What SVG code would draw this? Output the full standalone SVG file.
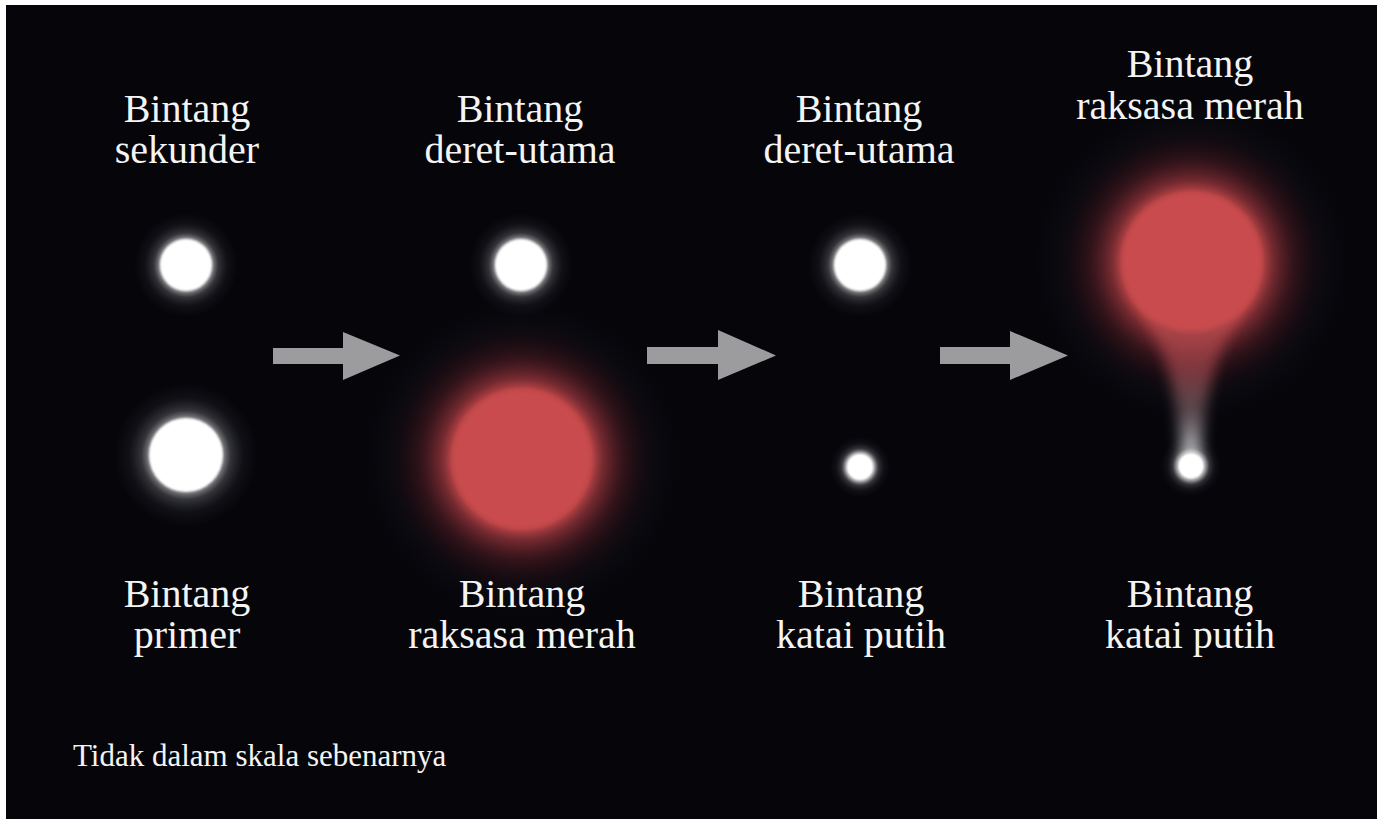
<svg xmlns="http://www.w3.org/2000/svg" width="1383" height="819" viewBox="0 0 1383 819">
  <style>
    .lbl { font-family: "Liberation Serif", "DejaVu Serif", serif; font-size: 40px; fill: #f4f4f4; text-anchor: middle; }
    .note { font-family: "Liberation Serif", "DejaVu Serif", serif; font-size: 31px; fill: #f4f4f4; }
    .arrow { fill: #9c9c9e; }
    .core { fill: #ffffff; filter: url(#soft); }
    .giant { fill: #c94c4d; filter: url(#soft2); }
  </style>
  <defs>
    <filter id="soft" x="-30%" y="-30%" width="160%" height="160%">
      <feGaussianBlur stdDeviation="1.3"/>
    </filter>
    <filter id="soft2" x="-30%" y="-30%" width="160%" height="160%">
      <feGaussianBlur stdDeviation="2"/>
    </filter>
    <filter id="haze" x="-80%" y="-30%" width="260%" height="160%">
      <feGaussianBlur stdDeviation="7"/>
    </filter>
    <radialGradient id="whiteGlow">
      <stop offset="0" stop-color="#ffffff" stop-opacity="0.9"/>
      <stop offset="0.5" stop-color="#ffffff" stop-opacity="0.55"/>
      <stop offset="0.62" stop-color="#d8dade" stop-opacity="0.22"/>
      <stop offset="0.8" stop-color="#9a9ca4" stop-opacity="0.07"/>
      <stop offset="1" stop-color="#9a9ca4" stop-opacity="0"/>
    </radialGradient>
    <radialGradient id="redGlow">
      <stop offset="0" stop-color="#c94c4d" stop-opacity="1"/>
      <stop offset="0.5" stop-color="#c24749" stop-opacity="0.95"/>
      <stop offset="0.58" stop-color="#97343a" stop-opacity="0.75"/>
      <stop offset="0.72" stop-color="#5c1c24" stop-opacity="0.5"/>
      <stop offset="0.88" stop-color="#2a0c12" stop-opacity="0.25"/>
      <stop offset="1" stop-color="#10060a" stop-opacity="0"/>
    </radialGradient>
    <radialGradient id="dimHalo">
      <stop offset="0" stop-color="#1a1a20" stop-opacity="0.6"/>
      <stop offset="0.8" stop-color="#121218" stop-opacity="0.4"/>
      <stop offset="1" stop-color="#0a0a10" stop-opacity="0"/>
    </radialGradient>
    <linearGradient id="streamFill" x1="0" y1="0" x2="0" y2="1">
      <stop offset="0" stop-color="#b4464a" stop-opacity="0.9"/>
      <stop offset="0.4" stop-color="#9a4248" stop-opacity="0.75"/>
      <stop offset="0.7" stop-color="#8c7074" stop-opacity="0.6"/>
      <stop offset="0.9" stop-color="#d0d0d4" stop-opacity="0.7"/>
      <stop offset="1" stop-color="#ffffff" stop-opacity="0.9"/>
    </linearGradient>
  </defs>

  <!-- backdrop -->
  <rect width="1383" height="819" fill="#ffffff"/>
  <rect x="6" y="5" width="1371" height="814" fill="#05050a"/>

  <!-- stage 1: two stars before evolution -->
  <g id="stage1-secondary">
    <circle cx="186" cy="265" r="52" fill="url(#whiteGlow)"/>
    <circle class="core" cx="186" cy="265" r="26"/>
    <text class="lbl" x="187" y="122">Bintang</text>
    <text class="lbl" x="187" y="163">sekunder</text>
  </g>
  <g id="stage1-primary">
    <circle cx="186" cy="455" r="72" fill="url(#whiteGlow)"/>
    <circle class="core" cx="186" cy="455" r="37"/>
    <text class="lbl" x="187" y="607">Bintang</text>
    <text class="lbl" x="187" y="648">primer</text>
  </g>

  <!-- stage 2: primary becomes a red giant -->
  <g id="stage2-secondary">
    <circle cx="521" cy="265" r="52" fill="url(#whiteGlow)"/>
    <circle class="core" cx="521" cy="265" r="26"/>
    <text class="lbl" x="520" y="122">Bintang</text>
    <text class="lbl" x="520" y="163">deret-utama</text>
  </g>
  <g id="stage2-primary">
    <circle cx="522" cy="459" r="165" fill="url(#dimHalo)"/>
    <circle cx="522" cy="459" r="140" fill="url(#redGlow)"/>
    <circle class="giant" cx="522" cy="459" r="69"/>
    <text class="lbl" x="522" y="607">Bintang</text>
    <text class="lbl" x="522" y="648">raksasa merah</text>
  </g>

  <!-- stage 3: primary becomes a white dwarf -->
  <g id="stage3-secondary">
    <circle cx="860" cy="265" r="52" fill="url(#whiteGlow)"/>
    <circle class="core" cx="860" cy="265" r="26"/>
    <text class="lbl" x="859" y="122">Bintang</text>
    <text class="lbl" x="859" y="163">deret-utama</text>
  </g>
  <g id="stage3-primary">
    <circle cx="860" cy="467" r="30" fill="url(#whiteGlow)"/>
    <circle class="core" cx="860" cy="467" r="13.5"/>
    <text class="lbl" x="861" y="607">Bintang</text>
    <text class="lbl" x="861" y="648">katai putih</text>
  </g>

  <!-- stage 4: secondary swells and feeds the dwarf -->
  <g id="stage4-secondary">
    <circle cx="1192" cy="262" r="165" fill="url(#dimHalo)"/>
    <circle cx="1192" cy="262" r="140" fill="url(#redGlow)"/>
    <path d="M1145,310 C1165,350 1176,390 1182,455 L1200,455 C1206,390 1217,350 1239,310 Z" fill="url(#streamFill)" filter="url(#haze)"/>
    <circle class="giant" cx="1192" cy="262" r="69"/>
    <text class="lbl" x="1190" y="77">Bintang</text>
    <text class="lbl" x="1190" y="119">raksasa merah</text>
  </g>
  <g id="stage4-primary">
    <circle cx="1191" cy="466" r="30" fill="url(#whiteGlow)"/>
    <circle class="core" cx="1191" cy="466" r="13"/>
    <text class="lbl" x="1190" y="607">Bintang</text>
    <text class="lbl" x="1190" y="648">katai putih</text>
  </g>

  <!-- transitions between stages -->
  <g id="connectors">
    <polygon class="arrow" points="273,348 343,348 343,332 400,355.5 343,380 343,364 273,364"/>
    <polygon class="arrow" points="647,347 718,347 718,330 776,355.5 718,380 718,364 647,364"/>
    <polygon class="arrow" points="940,347 1010,347 1010,331 1068,355.5 1010,380 1010,364 940,364"/>
  </g>

  <text class="note" x="73" y="766">Tidak dalam skala sebenarnya</text>
</svg>
